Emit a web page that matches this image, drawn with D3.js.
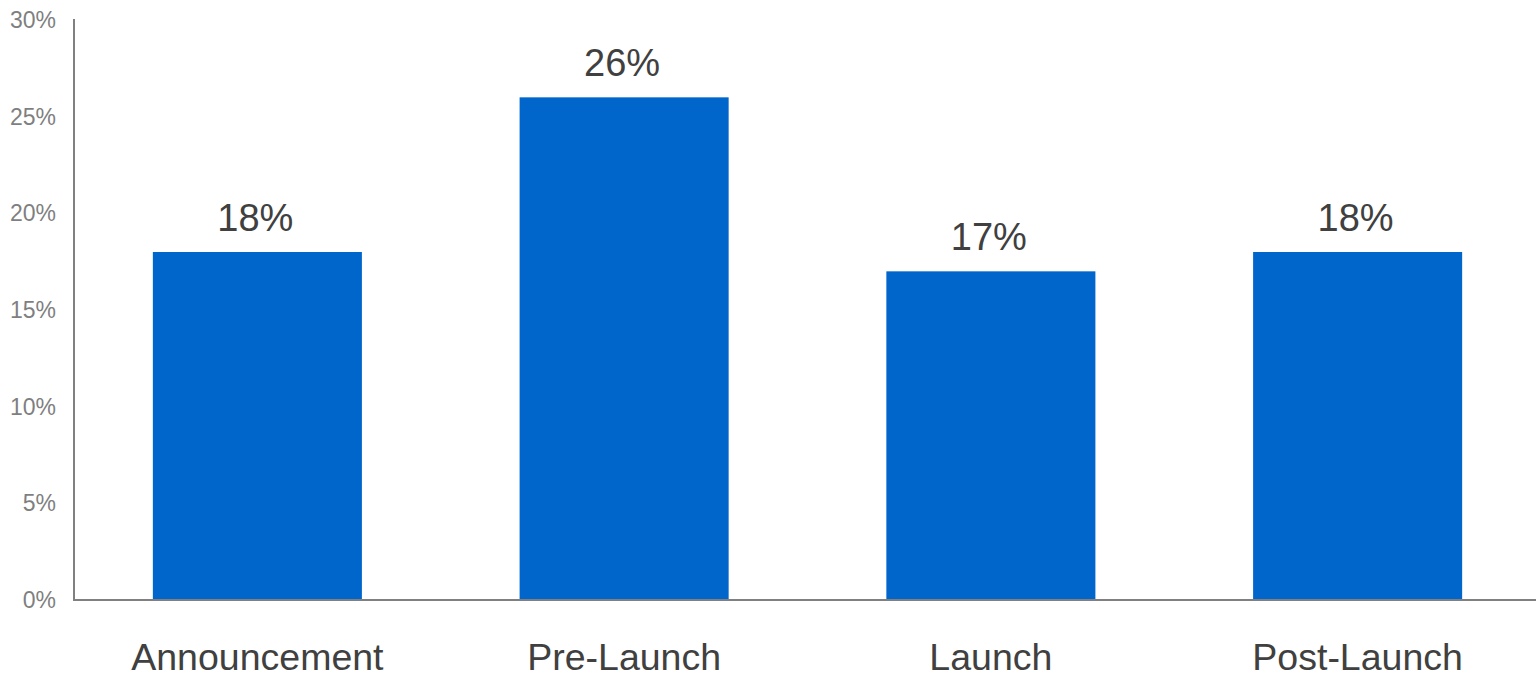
<!DOCTYPE html>
<html>
<head>
<meta charset="utf-8">
<script src="https://cdn.jsdelivr.net/npm/d3@7"></script>
<style>
  html, body { margin: 0; padding: 0; background: #ffffff; }
  svg { display: block; }
</style>
</head>
<body>
<svg id="chart" width="1536" height="673"></svg>
<script>
// Share of activity by product phase
const categories = ["Announcement", "Pre-Launch", "Launch", "Post-Launch"];
const values = [0.18, 0.26, 0.17, 0.18];
const valueLabels = ["18%", "26%", "17%", "18%"];
const yTicks = [0, 0.05, 0.10, 0.15, 0.20, 0.25, 0.30];
const yTickLabels = ["0%", "5%", "10%", "15%", "20%", "25%", "30%"];

const svg = d3.select("#chart");
const W = 1536;
const plotLeft = 74, plotRight = 1541, plotTop = 20, plotBottom = 600;

const x = d3.scaleBand()
  .domain(categories)
  .range([plotLeft, plotRight])
  .paddingInner(0.43)
  .paddingOuter(0.215);

const y = d3.scaleLinear()
  .domain([0, 0.30])
  .range([plotBottom, plotTop]);

// bars
svg.append("g")
  .selectAll("rect")
  .data(categories)
  .join("rect")
  .attr("x", d => x(d))
  .attr("y", (d, i) => y(values[i]))
  .attr("width", x.bandwidth())
  .attr("height", (d, i) => y(0) - y(values[i]))
  .attr("fill", "#0066cc");

// value labels above bars
svg.append("g")
  .selectAll("text")
  .data(categories)
  .join("text")
  .attr("x", d => x(d) + x.bandwidth() / 2 - 2)
  .attr("y", (d, i) => y(values[i]) - 21)
  .attr("text-anchor", "middle")
  .attr("font-family", "Liberation Sans, Arial, sans-serif")
  .attr("font-size", 38)
  .attr("fill", "#404040")
  .text((d, i) => valueLabels[i]);

// y axis
const yAxis = d3.axisLeft(y)
  .tickValues(yTicks)
  .tickFormat((d, i) => yTickLabels[i])
  .tickSize(0)
  .tickPadding(18);

const gy = svg.append("g")
  .attr("transform", `translate(${plotLeft},0)`)
  .call(yAxis);
gy.select(".domain")
  .attr("d", `M0,${plotTop - 1}V${plotBottom}`)
  .attr("stroke", "#808080")
  .attr("stroke-width", 2);
gy.selectAll(".tick text")
  .attr("font-family", "Liberation Sans, Arial, sans-serif")
  .attr("font-size", 23)
  .attr("fill", "#7f7f7f");

// x axis
const xAxis = d3.axisBottom(x).tickSize(0).tickPadding(43);
const gx = svg.append("g")
  .attr("transform", `translate(0,${plotBottom})`)
  .call(xAxis);
gx.select(".domain")
  .attr("d", `M${plotLeft - 1},0H${W}`)
  .attr("stroke", "#808080")
  .attr("stroke-width", 2);
gx.selectAll(".tick text")
  .attr("font-family", "Liberation Sans, Arial, sans-serif")
  .attr("font-size", 37.5)
  .attr("fill", "#404040");
</script>
</body>
</html>
